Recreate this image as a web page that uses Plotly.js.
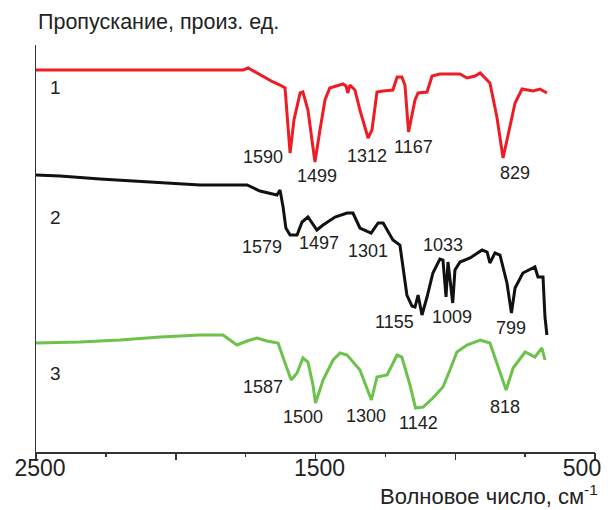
<!DOCTYPE html>
<html>
<head>
<meta charset="utf-8">
<script src="https://cdn.plot.ly/plotly-3.0.1.min.js"></script>
<style>
html,body{margin:0;padding:0;background:#fff;}
#chart{width:611px;height:510px;}
</style>
</head>
<body>
<div id="chart"></div>
<script>
// ---- data (wavenumber, cm^-1 ; transmittance, arbitrary units) ----
const wn1 = [2500,1759,1741,1699,1652,1627,1609,1591,1577,1555,1545,1527,1502,1484,1466,1449,1402,1391,1384,1377,1359,1341,1312,1298,1280,1258,1223,1208,1191,1180,1167,1144,1133,1101,1083,1055,983,958,929,911,894,876,851,840,829,811,786,761,722,697,672];
const t1  = [382,382,384,377,370,367,364,299,332,359,360,342,290,322,352,364,368,366,359,367,362,342,314,322,360,361,362,375,375,367,320,352,359,360,376,378,378,374,376,379,374,369,335,312,294,317,349,363,361,363,359];

const wn2 = [2500,2414,2271,2092,1913,1745,1699,1638,1627,1616,1606,1591,1566,1548,1527,1495,1473,1430,1387,1366,1341,1301,1276,1258,1223,1198,1187,1173,1155,1144,1133,1119,1101,1080,1055,1044,1033,1026,1009,1001,983,947,904,886,876,858,840,815,799,786,758,725,715,704,686,679,672];
const t2  = [277,276,273,270,267,267,261,257,262,245,224,217,217,230,235,222,227,235,239,239,224,219,229,229,212,207,187,157,146,145,157,137,155,179,193,192,155,190,149,182,190,194,202,200,189,199,197,169,139,164,179,184,185,175,175,135,117];

const wn3 = [2500,2343,2199,2056,1913,1831,1806,1781,1745,1709,1674,1634,1609,1587,1566,1545,1527,1509,1500,1473,1437,1412,1387,1366,1341,1300,1280,1244,1208,1191,1162,1142,1115,1080,1044,1019,994,958,911,876,851,818,793,750,715,690,679];
const t3  = [109,110,112,115,117,117,112,107,111,114,111,109,89,72,79,94,90,67,49,72,92,99,97,90,82,52,75,77,97,95,67,44,45,54,65,82,100,107,112,109,89,62,84,100,95,104,92];

const seriesNames = ['1','2','3'];
const peaks1 = ['1590','1499','1312','1167','829'];
const peaks2 = ['1579','1497','1301','1033','1155','1009','799'];
const peaks3 = ['1587','1500','1300','1142','818'];
const labeledTicks = [2500,1500];
const labeledText = ['2500','1500'];
const plainTicks = [2000,1000];
const endTick = [500];
const endText = ['500'];

// ---- label placement (layout) ----
const peakPos1 = [[1688,295],[1495,276],[1316,296],[1151,305],[786,279]];
const peakPos2 = [[1691,205],[1487,209],[1312,201],[1044,207],[1216,130],[1012,135],[801,124]];
const peakPos3 = [[1688,65],[1545,35],[1319,36],[1133,29],[822,45]];
const namePos = [[2432,365],[2432,235],[2432,79]];

const colors = ['#ee1c25','#111111','#6cc24a'];
const FONT = 'Liberation Sans, Arial, Helvetica, sans-serif';
const RANGE = [2500,500];

const traces = [
  {x: wn1, y: t1, xaxis:'x',  mode:'lines', line:{color:colors[0], width:3}, hoverinfo:'skip'},
  {x: wn2, y: t2, xaxis:'x3', mode:'lines', line:{color:colors[1], width:3}, hoverinfo:'skip'},
  {x: wn3, y: t3, xaxis:'x2', mode:'lines', line:{color:colors[2], width:3}, hoverinfo:'skip'}
];

const annotations = [];
function addLabels(texts, pos, size){
  texts.forEach((t,i)=>{
    annotations.push({x:pos[i][0], y:pos[i][1], xref:'x', yref:'y', text:t, showarrow:false,
      xanchor:'center', yanchor:'middle', font:{family:FONT, size:size, color:'#222'}});
  });
}
addLabels(peaks1, peakPos1, 18);
addLabels(peaks2, peakPos2, 18);
addLabels(peaks3, peakPos3, 18);
addLabels(seriesNames, namePos, 19);

annotations.push({xref:'paper', yref:'paper', x:0, y:1.057, xanchor:'left', yanchor:'middle',
  text:'Пропускание, произ. ед.', showarrow:false, font:{family:FONT, size:21.5, color:'#222'}});
annotations.push({xref:'paper', yref:'paper', x:1.009, y:-0.106, xanchor:'right', yanchor:'middle',
  text:'Волновое число, см<sup>-1</sup>', showarrow:false, font:{family:FONT, size:22, color:'#222'}});

const tickCommon = {ticks:'outside', ticklen:7, tickwidth:1.5, tickcolor:'#333',
  tickfont:{family:FONT, size:23, color:'#222'}, ticklabelstandoff:-12};

const layout = {
  width:611, height:510,
  margin:{l:36, r:16, t:45, b:58},
  paper_bgcolor:'#fff', plot_bgcolor:'#fff',
  showlegend:false,
  xaxis:Object.assign({
    range:RANGE, showgrid:false, zeroline:false,
    showline:true, linecolor:'#333', linewidth:1.5,
    tickmode:'array', tickvals:labeledTicks, ticktext:labeledText,
    ticklabelshift:-4,
    minor:{dtick:250, tick0:500, ticks:'outside', ticklen:3, tickwidth:1.5, tickcolor:'#333'}
  }, tickCommon),
  xaxis2:Object.assign({
    range:RANGE, overlaying:'x', anchor:'y', side:'bottom',
    showgrid:false, zeroline:false, showline:false,
    tickmode:'array', tickvals:plainTicks, showticklabels:false
  }, tickCommon),
  xaxis3:Object.assign({
    range:RANGE, overlaying:'x', anchor:'y', side:'bottom',
    showgrid:false, zeroline:false, showline:false,
    tickmode:'array', tickvals:endTick, ticktext:endText,
    ticklabelshift:13, ticklabeloverflow:'allow'
  }, tickCommon),
  yaxis:{
    range:[0,407], showgrid:false, zeroline:false,
    showline:true, linecolor:'#333', linewidth:1.5,
    showticklabels:false, ticks:''
  },
  annotations: annotations
};

Plotly.newPlot('chart', traces, layout, {staticPlot:true, displayModeBar:false});
</script>
</body>
</html>
